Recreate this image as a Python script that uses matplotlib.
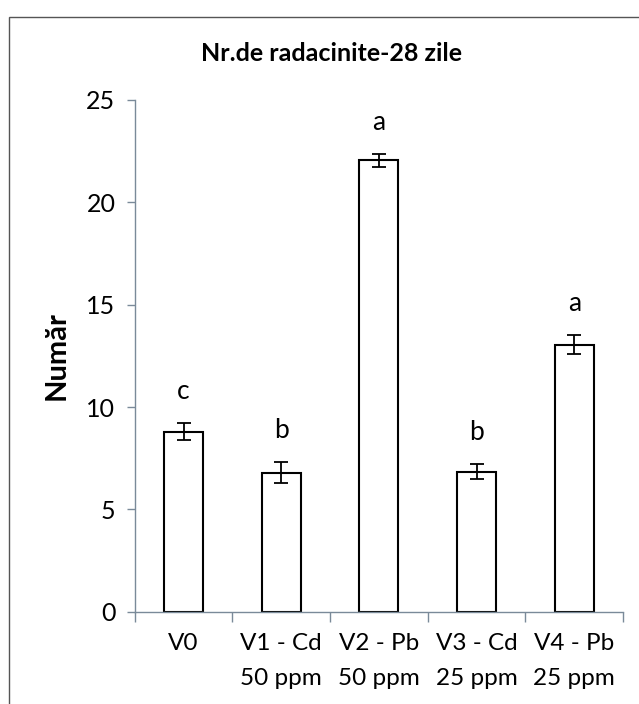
import numpy as np
import matplotlib.pyplot as plt
from matplotlib.patches import Rectangle

plt.rcParams['font.family'] = ['Lato', 'DejaVu Sans']

variants = ['V0', 'V1 - Cd\n50 ppm', 'V2 - Pb\n50 ppm', 'V3 - Cd\n25 ppm', 'V4 - Pb\n25 ppm']
means = [8.8, 6.8, 22.05, 6.85, 13.05]
errors = [0.4, 0.5, 0.3, 0.35, 0.45]
letters = ['c', 'b', 'a', 'b', 'a']

fig = plt.figure(figsize=(6.39, 7.04), dpi=100)
ax = fig.add_axes([0.211, 0.131, 0.764, 0.727])

# outer chart frame
fig.patches.append(Rectangle((0.014, -0.01), 0.99, 0.986, transform=fig.transFigure,
                             fill=False, edgecolor='#555555', linewidth=1.0))

x = np.arange(len(variants))
ax.bar(x, means, width=0.4, color='white', edgecolor='black', linewidth=1.5,
       yerr=errors, capsize=5, error_kw=dict(elinewidth=1.3, capthick=1.3, ecolor='black'))

for xi, m, e, l in zip(x, means, errors, letters):
    ax.text(xi, m + e + 1.55, l, ha='center', va='center', fontsize=19)

ax.set_xlim(-0.5, len(variants) - 0.5)
ax.set_ylim(0, 25)
ax.set_yticks(range(0, 26, 5))
ax.set_xticks(x)
ax.set_xticklabels(variants, fontsize=17.5, linespacing=1.85)
ax.set_xticks(np.arange(-0.5, len(variants)), minor=True)
ax.tick_params(axis='x', which='major', length=0, pad=15)
ax.tick_params(axis='x', which='minor', length=7, width=1, color='#7a8a99', direction='out')
ax.tick_params(axis='y', labelsize=18, length=6, width=1, color='#7a8a99', pad=8)

for side in ['top', 'right']:
    ax.spines[side].set_visible(False)
for side in ['left', 'bottom']:
    ax.spines[side].set_color('#7a8a99')
    ax.spines[side].set_linewidth(1)

ax.set_ylabel('Număr', fontsize=21, fontweight='bold', labelpad=12)
fig.text(0.518, 0.924, 'Nr.de radacinite-28 zile', ha='center', va='center',
         fontsize=18, fontweight='bold')

fig.savefig('out.png', dpi=100)
